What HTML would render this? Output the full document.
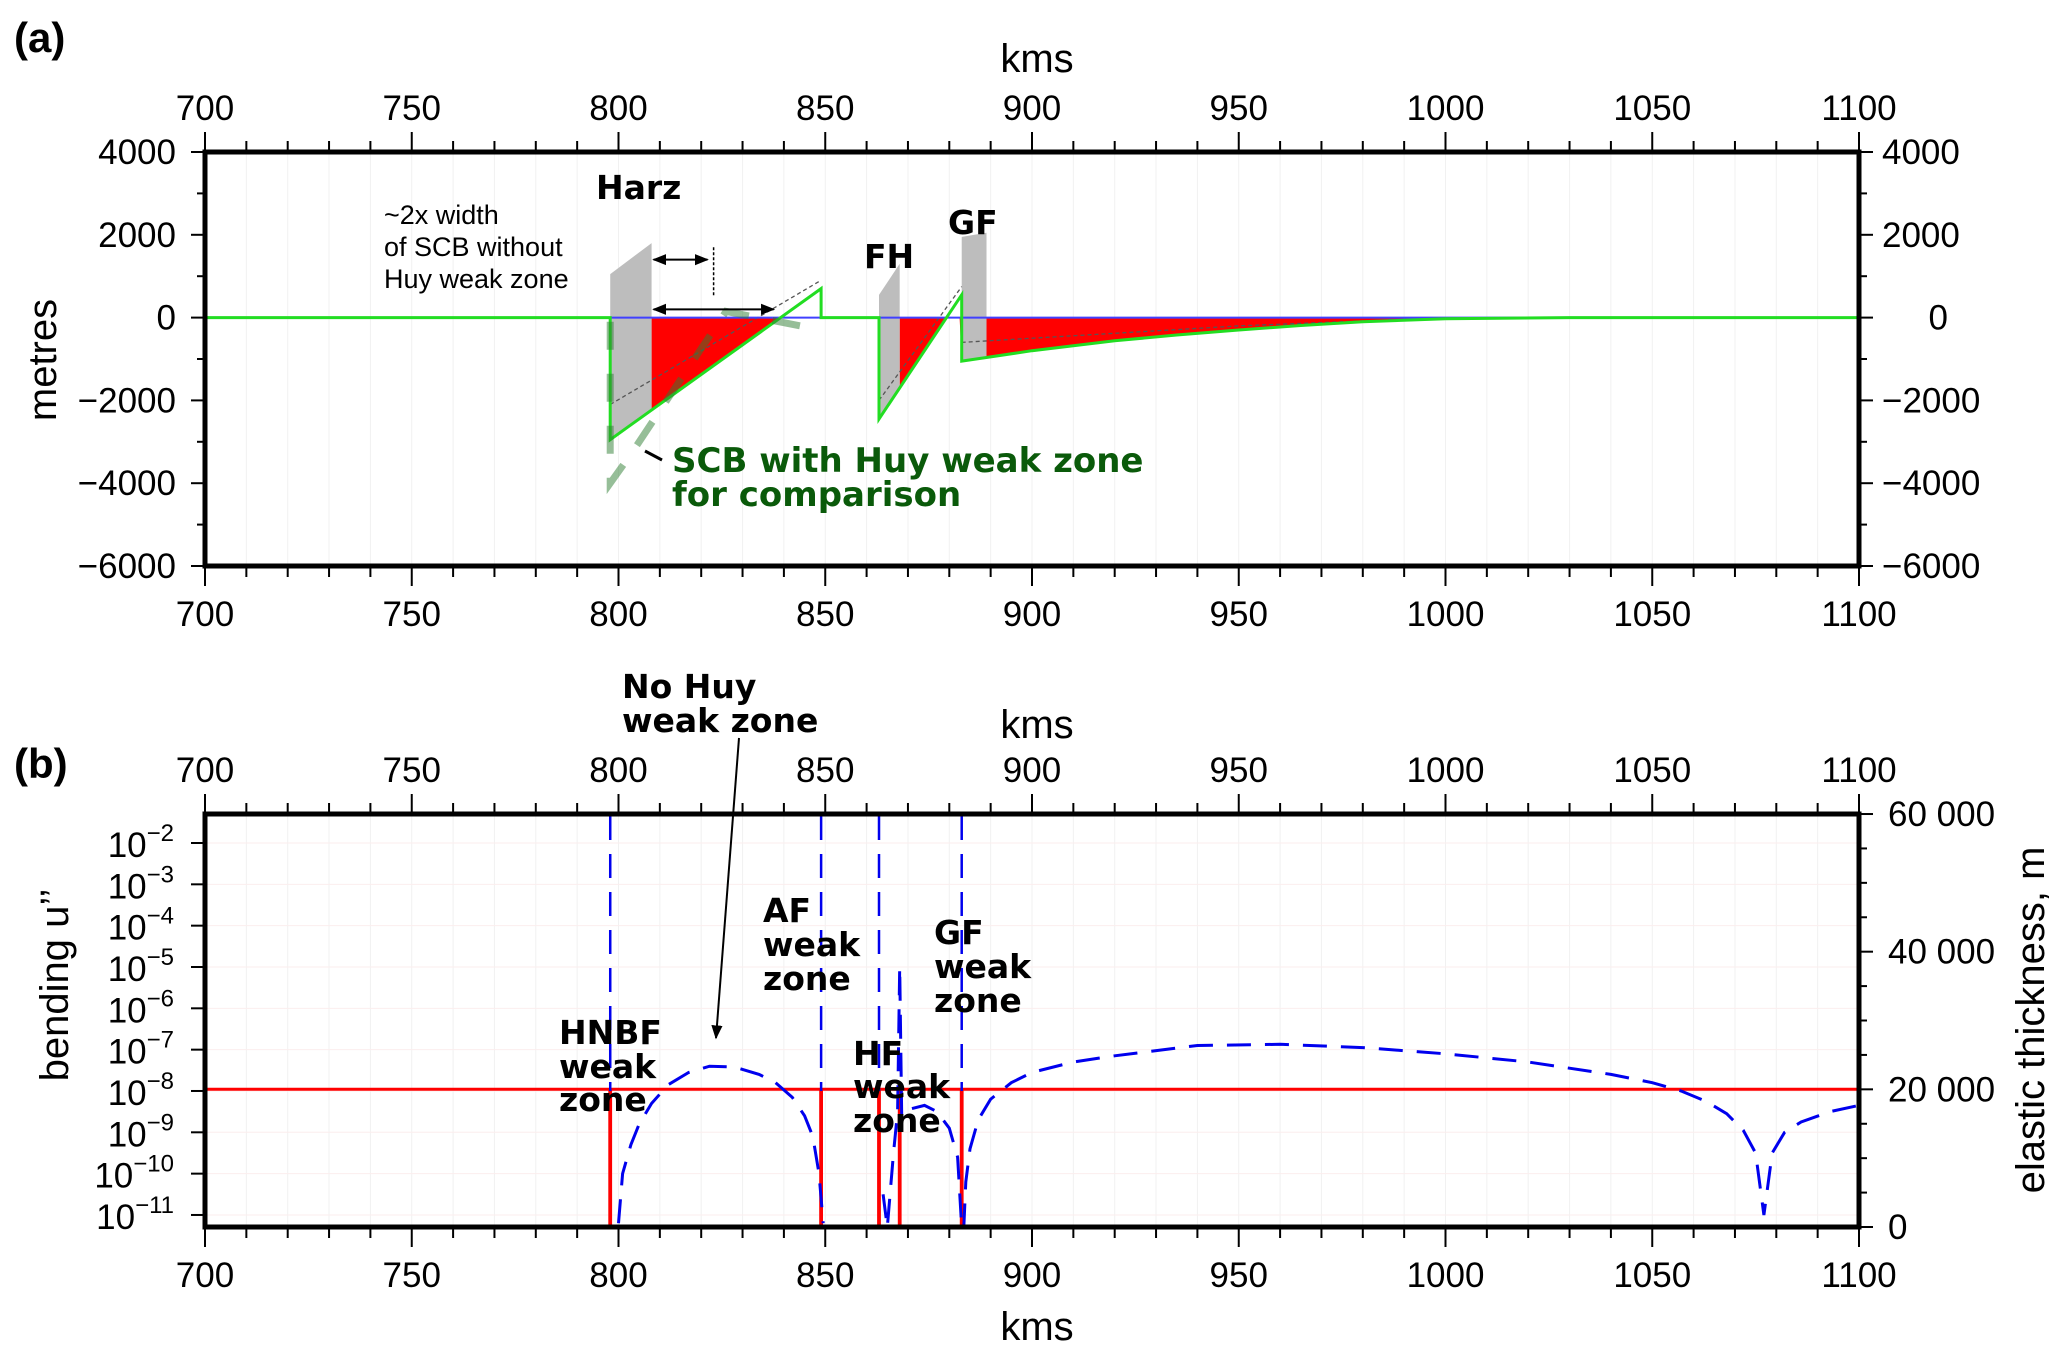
<!DOCTYPE html>
<html><head><meta charset="utf-8">
<style>
html,body{margin:0;padding:0;background:#fff;}
svg{display:block;}
.tk{font-family:"Liberation Sans Narrow","Liberation Sans",sans-serif;font-size:35px;fill:#000;}
.ttl{font-family:"Liberation Sans",sans-serif;font-size:40px;fill:#000;}
.bold{font-family:"DejaVu Sans","Liberation Sans",sans-serif;font-weight:bold;font-size:33px;fill:#000;}
.note{font-family:"Liberation Sans Narrow","Liberation Sans",sans-serif;font-size:27px;fill:#000;}
</style></head>
<body>
<svg id="chart" width="2067" height="1358" viewBox="0 0 2067 1358" xmlns="http://www.w3.org/2000/svg">
<defs>
<marker id="ah" viewBox="0 0 10 10" refX="9" refY="5" markerWidth="7" markerHeight="7" orient="auto-start-reverse"><path d="M0,1 L10,5 L0,9 z" fill="#000"/></marker>
</defs>
<g id="pa"></g>
<g id="pb"></g>
<text x="14" y="52" class="ttl" style="font-weight:bold;font-size:42px">(a)</text>
<text x="14" y="778" class="ttl" style="font-weight:bold;font-size:42px">(b)</text>
<text x="1037" y="72" class="ttl" text-anchor="middle">kms</text>
<text x="1037" y="738" class="ttl" text-anchor="middle">kms</text>
<text x="1037" y="1340" class="ttl" text-anchor="middle">kms</text>
<text transform="translate(56,360) rotate(-90)" class="ttl" text-anchor="middle">metres</text>
<text transform="translate(68,985) rotate(-90)" class="ttl" text-anchor="middle">bending u’’</text>
<text transform="translate(2044,1020) rotate(-90)" class="ttl" text-anchor="middle">elastic thickness, m</text>
<text x="596" y="199" class="bold">Harz</text>
<text x="864" y="268" class="bold">FH</text>
<text x="948" y="234" class="bold">GF</text>
<text class="note"><tspan x="384" y="224">~2x width</tspan><tspan x="384" y="256">of SCB without</tspan><tspan x="384" y="288">Huy weak zone</tspan></text>
<text class="bold" style="fill:#0a5a0a;font-size:34px"><tspan x="672" y="472">SCB with Huy weak zone</tspan><tspan x="672" y="506">for comparison</tspan></text>
<line x1="645" y1="451" x2="662" y2="460" stroke="#000" stroke-width="3"/>
<text class="bold"><tspan x="622" y="698">No Huy</tspan><tspan x="622" y="732">weak  zone</tspan></text>
<line x1="739" y1="738" x2="716" y2="1038" stroke="#000" stroke-width="2" marker-end="url(#ah)"/>
<text class="bold"><tspan x="559" y="1044">HNBF</tspan><tspan x="559" y="1078">weak</tspan><tspan x="559" y="1111">zone</tspan></text>
<text class="bold"><tspan x="763" y="922">AF</tspan><tspan x="763" y="956">weak</tspan><tspan x="763" y="990">zone</tspan></text>
<text class="bold"><tspan x="853" y="1065">HF</tspan><tspan x="853" y="1098">weak</tspan><tspan x="853" y="1132">zone</tspan></text>
<text class="bold"><tspan x="934" y="944">GF</tspan><tspan x="934" y="978">weak</tspan><tspan x="934" y="1012">zone</tspan></text>
</svg>
<script>
const NS="http://www.w3.org/2000/svg";
// ---- data ----
const xTicks=[700,750,800,850,900,950,1000,1050,1100];
const aYTicks=[4000,2000,0,-2000,-4000,-6000];
const greenX=[700,798,798,849,849,863,863,883,883,890,900,910,920,935,950,965,980,1000,1030,1100];
const greenY=[0,0,-2950,700,0,0,-2450,550,-1050,-950,-800,-680,-560,-420,-300,-190,-100,-30,0,0];
const huyX=[798,798,803,826,849];
const huyY=[-100,-4000,-3300,150,-300];
const grayHarz={x0:798,x1:808,top0:1050,top1:1800};
const grayFH={x0:863,x1:868,top0:550,top1:1300};
const grayGF={x0:883,x1:889,top0:1950,top1:2050};
const redRanges=[[808,849],[868,883],[889,1100]];
const thinX1=[798,849]; const thinY1=[-2100,900];
const thinX2=[863,883]; const thinY2=[-2000,750];
const thinX3=[883,950,1000]; const thinY3=[-600,-200,0];
const bLogTicks=[-2,-3,-4,-5,-6,-7,-8,-9,-10,-11];
const bRTicks=[0,20000,40000,60000];
// segments of bending curve (x, log10 value)
const bendX1=[800,801,803,805,808,812,817,822,828,834,838,842,845,847,848.5,849.5];
const bendL1=[-11.2,-10,-9.3,-8.8,-8.3,-7.85,-7.55,-7.4,-7.42,-7.6,-7.8,-8.15,-8.6,-9.1,-10,-11.2];
const bendX2=[864,865,866.5,867.5,868,868.5,870,874,877,880,882,883];
const bendL2=[-10.5,-11.3,-9.5,-8.5,-5,-8.6,-8.45,-8.35,-8.5,-8.9,-9.6,-11.3];
const bendX3=[883.5,884,885,887,890,895,900,910,920,940,960,980,1000,1020,1040,1050,1057,1063,1068,1072,1075,1077,1079,1082,1086,1093,1100];
const bendL3=[-11.3,-10.2,-9.4,-8.7,-8.2,-7.8,-7.55,-7.3,-7.15,-6.9,-6.87,-6.95,-7.1,-7.3,-7.6,-7.8,-8,-8.25,-8.55,-8.95,-9.5,-11,-9.5,-9,-8.75,-8.5,-8.35];
const spikeX=[798,849,863,883];
const teX=[700,797.9,797.9,798.1,798.1,848.9,848.9,849.1,849.1,862.9,862.9,863.1,863.1,867.9,867.9,868.1,868.1,882.9,882.9,883.1,883.1,1100];
const teY=[20000,20000,0,0,20000,20000,0,0,20000,20000,0,0,20000,20000,0,0,20000,20000,0,0,20000,20000];
// ---- scales ----
const X=v=>205+(v-700)*4.135;
const YA=v=>152+(4000-v)*0.0414;
const YL=l=>843+(-2-l)*41.33;
const YR=v=>1227-v*0.006883;
function mk(p,tag,at){const e=document.createElementNS(NS,tag);for(const k in at)e.setAttribute(k,at[k]);p.appendChild(e);return e;}
function interp(xs,ys,x){for(let i=xs.length-1;i>0;i--){if(x>=xs[i-1]&&x<=xs[i]&&xs[i]!==xs[i-1]){return ys[i-1]+(ys[i]-ys[i-1])*(x-xs[i-1])/(xs[i]-xs[i-1]);}}return 0;}
function pts(xs,ys,fx,fy){return xs.map((x,i)=>fx(x).toFixed(1)+","+fy(ys[i]).toFixed(1)).join(" ");}
const pa=document.getElementById('pa'), pb=document.getElementById('pb');

function frame(g,top,bot,pre){
  for(let v=710;v<1100;v+=10){const l=mk(g,'line',{x1:X(v),x2:X(v),y1:top,y2:bot,stroke:'#f1f1f1','stroke-width':1});
    
    }
  for(let v=700;v<=1100;v+=10){const maj=v%50===0;const L=maj?20:11;
    const t1=mk(g,'line',{x1:X(v),x2:X(v),y1:top,y2:top-L,stroke:'#000','stroke-width':2});
    
    
    const t2=mk(g,'line',{x1:X(v),x2:X(v),y1:bot,y2:bot+L,stroke:'#000','stroke-width':2});
    
    }
  xTicks.forEach(v=>{
    const a=mk(g,'text',{x:X(v),y:top-32,'text-anchor':'middle',class:'tk'});a.textContent=v;
    
    
    const b=mk(g,'text',{x:X(v),y:bot+60,'text-anchor':'middle',class:'tk'});b.textContent=v;
    
    });
}
function border(g,top,bot,pre){const r=mk(g,'rect',{x:X(700),y:top,width:X(1100)-X(700),height:bot-top,fill:'none',stroke:'#000','stroke-width':5});
  
  }

// ---- panel a ----
frame(pa,152,566,'a');
for(let v=-6000;v<=4000;v+=1000){const L=v%2000===0?14:8;
  const t=mk(pa,'line',{x1:X(700),x2:X(700)-L,y1:YA(v),y2:YA(v),stroke:'#000','stroke-width':2});
  
  
  const t2=mk(pa,'line',{x1:X(1100),x2:X(1100)+L,y1:YA(v),y2:YA(v),stroke:'#000','stroke-width':2});
  
  }
aYTicks.forEach(v=>{const s=v<0?'−'+(-v):String(v);
  const a=mk(pa,'text',{x:176,y:YA(v)+12,'text-anchor':'end',class:'tk'});a.textContent=s;
  
  
  const b=mk(pa,'text',{x:v===0?1948:1882,y:YA(v)+12,'text-anchor':v===0?'end':'start',class:'tk'});b.textContent=s;
  
  });
redRanges.forEach(r=>{const xs=[r[0]];for(let x=r[0]+0.5;x<r[1];x+=0.5)xs.push(x);xs.push(r[1]);
  let d=X(r[0])+','+YA(0);xs.forEach(x=>{d+=' '+X(x).toFixed(1)+','+YA(Math.min(0,interp(greenX,greenY,x))).toFixed(1);});d+=' '+X(r[1])+','+YA(0);
  const p=mk(pa,'polygon',{points:d,fill:'#ff0000'});
  
  });
[[grayHarz,'harz-block'],[grayFH,'fh-block'],[grayGF,'gf-block']].forEach(([b,n])=>{
  const bl0=interp(greenX,greenY,b.x0+0.01), bl1=interp(greenX,greenY,b.x1);
  const p=mk(pa,'polygon',{points:`${X(b.x0)},${YA(b.top0)} ${X(b.x1)},${YA(b.top1)} ${X(b.x1)},${YA(bl1)} ${X(b.x0)},${YA(bl0)}`,fill:'#bdbdbd'});
  
  });
[[thinX1,thinY1],[thinX2,thinY2],[thinX3,thinY3]].forEach(([xs,ys])=>{
  const l=mk(pa,'polyline',{points:pts(xs,ys,X,YA),fill:'none',stroke:'#555','stroke-width':1.3,'stroke-dasharray':'4,3'});
  
  });
const bz=mk(pa,'line',{x1:X(700),x2:X(1100),y1:YA(0),y2:YA(0),stroke:'#4040ff','stroke-width':2});


const gl=mk(pa,'polyline',{points:pts(greenX,greenY,X,YA),fill:'none',stroke:'#22dd22','stroke-width':3});


const hl=mk(pa,'polyline',{points:pts(huyX,huyY,X,YA),fill:'none',stroke:'#2e7d32','stroke-opacity':0.5,'stroke-width':7,'stroke-dasharray':'28,24'});


const ar1=mk(pa,'line',{x1:X(808)+2,x2:X(822)-2,y1:YA(1400),y2:YA(1400),stroke:'#000','stroke-width':2,'marker-start':'url(#ah)','marker-end':'url(#ah)'});


const ar2=mk(pa,'line',{x1:X(808)+2,x2:X(838)-2,y1:YA(200),y2:YA(200),stroke:'#000','stroke-width':2,'marker-start':'url(#ah)','marker-end':'url(#ah)'});


const vd=mk(pa,'line',{x1:X(823),x2:X(823),y1:YA(1700),y2:YA(500),stroke:'#000','stroke-width':1.5,'stroke-dasharray':'3,2'});


border(pa,152,566,'a');

// ---- panel b ----
frame(pb,814,1227,'b');
bLogTicks.forEach(l=>{
  const t=mk(pb,'line',{x1:X(700),x2:X(700)-14,y1:YL(l),y2:YL(l),stroke:'#000','stroke-width':2});
  
  
  const g=mk(pb,'line',{x1:X(700),x2:X(1100),y1:YL(l),y2:YL(l),stroke:'#fbeeee','stroke-width':1});
  
  
  const tx=mk(pb,'text',{x:174,y:YL(l)+14,'text-anchor':'end',class:'tk'});
  
  
  tx.textContent='10';const s=mk(tx,'tspan',{dy:-16,style:'font-size:24px'});s.textContent='−'+(-l);});
for(let v=0;v<=60000;v+=5000){const t=mk(pb,'line',{x1:X(1100),x2:X(1100)+(v%20000===0?14:8),y1:YR(v),y2:YR(v),stroke:'#000','stroke-width':2});
  
  }
bRTicks.forEach(v=>{const t=mk(pb,'text',{x:1888,y:YR(v)+12,class:'tk'});t.textContent=v===0?'0':(v/1000)+' 000';
  
  });
const te=mk(pb,'polyline',{points:pts(teX,teY,X,YR),fill:'none',stroke:'#ff0000','stroke-width':3});


[[bendX1,bendL1],[bendX2,bendL2],[bendX3,bendL3]].forEach(([xs,ls])=>{
  const bd=mk(pb,'polyline',{points:pts(xs,ls,X,YL),fill:'none',stroke:'#0000ee','stroke-width':3,'stroke-dasharray':'24,14'});
  
  });
spikeX.forEach(x=>{const s=mk(pb,'line',{x1:X(x),x2:X(x),y1:816,y2:YL(-8),stroke:'#0000ee','stroke-width':2.5,'stroke-dasharray':'24,14'});
  
  });
border(pb,814,1227,'b');
</script>
</body></html>
